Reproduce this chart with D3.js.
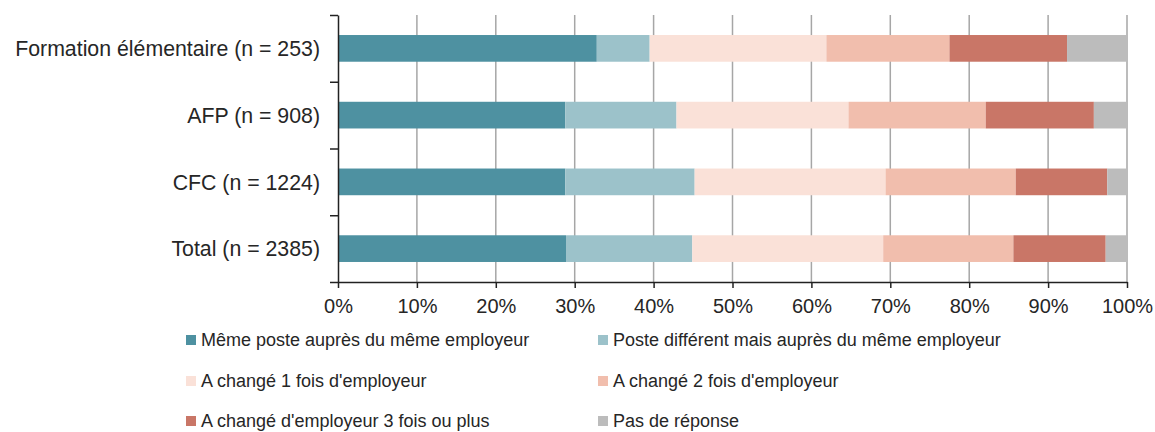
<!DOCTYPE html>
<html>
<head>
<meta charset="utf-8">
<script src="https://cdn.jsdelivr.net/npm/d3@7"></script>
<style>
  body { margin: 0; background: #fff; }
  text { font-family: "Liberation Sans", Arial, sans-serif; fill: #262626; }
</style>
</head>
<body>
<div id="chart"></div>
<script>
// DATA //
const categories = [
    "Formation élémentaire (n = 253)",
    "AFP (n = 908)",
    "CFC (n = 1224)",
    "Total (n = 2385)"
]

const seriesNames = [
    "Même poste auprès du même employeur",
    "Poste différent mais auprès du même employeur",
    "A changé 1 fois d'employeur",
    "A changé 2 fois d'employeur",
    "A changé d'employeur 3 fois ou plus",
    "Pas de réponse"
]

const memePoste   = [32.8, 28.8, 28.8, 28.9]
const posteDiff   = [6.7, 14.1, 16.4, 16.0]
const change1     = [22.4, 21.8, 24.2, 24.2]
const change2     = [15.6, 17.4, 16.5, 16.5]
const change3plus = [14.9, 13.7, 11.6, 11.7]
const pasReponse  = [7.6, 4.2, 2.5, 2.7]

const xTicks = [0, 10, 20, 30, 40, 50, 60, 70, 80, 90, 100]

const colors = ["#4e91a1", "#9cc2ca", "#fae1d8", "#f1bead", "#c97667", "#bcbcbc"]

// Set dimensions
let dimensions = {
    width: 1155,
    height: 432,
    margin: { top: 15, right: 28, bottom: 150, left: 338 },
}
dimensions.boundedWidth = dimensions.width - dimensions.margin.left - dimensions.margin.right
dimensions.boundedHeight = dimensions.height - dimensions.margin.top - dimensions.margin.bottom

// build rows for stacking
const rows = categories.map((c, i) => ({
    cat: c,
    s0: memePoste[i], s1: posteDiff[i], s2: change1[i],
    s3: change2[i], s4: change3plus[i], s5: pasReponse[i]
}))
const keys = ["s0", "s1", "s2", "s3", "s4", "s5"]
const stacked = d3.stack().keys(keys)(rows)

// Scales
const xScale = d3.scaleLinear()
    .domain([0, 100])
    .range([0, dimensions.boundedWidth])

const yScale = d3.scaleBand()
    .domain(categories)
    .range([0, dimensions.boundedHeight])
    .paddingInner(0.6)
    .paddingOuter(0.3)

// linear scale only for the y tick marks at band edges
const yEdge = d3.scaleLinear()
    .domain([0, categories.length])
    .range([0, dimensions.boundedHeight])

const svg = d3.select("#chart")
    .append("svg")
    .attr("width", dimensions.width)
    .attr("height", dimensions.height)

const bounds = svg.append("g")
    .attr("transform", `translate(${dimensions.margin.left},${dimensions.margin.top})`)

// gridlines
bounds.append("g")
    .selectAll("line")
    .data(xTicks.slice(1))
    .join("line")
    .attr("x1", d => xScale(d))
    .attr("x2", d => xScale(d))
    .attr("y1", 0)
    .attr("y2", dimensions.boundedHeight)
    .attr("stroke", "#a6a6a6")
    .attr("stroke-width", 1.5)

// bars
bounds.append("g")
    .selectAll("g")
    .data(stacked)
    .join("g")
    .attr("fill", (d, i) => colors[i])
    .selectAll("rect")
    .data(d => d)
    .join("rect")
    .attr("x", d => xScale(d[0]))
    .attr("width", d => xScale(d[1]) - xScale(d[0]))
    .attr("y", d => yScale(d.data.cat))
    .attr("height", yScale.bandwidth())

// x axis
const xAxisGenerator = d3.axisBottom(xScale)
    .tickValues(xTicks)
    .tickFormat(d => d + "%")
    .tickSize(6)
    .tickSizeOuter(0)

const xAxis = bounds.append("g")
    .attr("transform", `translate(0,${dimensions.boundedHeight})`)
    .call(xAxisGenerator)
xAxis.select(".domain").attr("stroke", "#222").attr("stroke-width", 1.5)
xAxis.selectAll(".tick line").attr("stroke", "#222").attr("stroke-width", 1.5)
xAxis.selectAll("text")
    .attr("y", 17)
    .style("font-size", "20px")
    .style("font-family", "'Liberation Sans', Arial, sans-serif")
    .attr("fill", "#262626")

// y axis line + edge ticks
const yAxis = bounds.append("g")
    .call(d3.axisLeft(yEdge)
        .tickValues(d3.range(categories.length + 1))
        .tickFormat("")
        .tickSize(8)
        .tickSizeOuter(0))
yAxis.select(".domain").attr("stroke", "#222").attr("stroke-width", 1.5)
yAxis.selectAll(".tick line").attr("stroke", "#222").attr("stroke-width", 1.5)

// category labels
bounds.append("g")
    .selectAll("text")
    .data(categories)
    .join("text")
    .attr("x", -18)
    .attr("y", d => yScale(d) + yScale.bandwidth() / 2)
    .attr("dy", "0.36em")
    .attr("text-anchor", "end")
    .style("font-size", "21.3px")
    .text(d => d)

// legend
const legendCols = [186, 598]
const legendRows = [340, 381, 421]
const legend = svg.append("g")
    .selectAll("g")
    .data(seriesNames)
    .join("g")
    .attr("transform", (d, i) => `translate(${legendCols[i % 2]},${legendRows[Math.floor(i / 2)]})`)

legend.append("rect")
    .attr("x", 0)
    .attr("y", -5)
    .attr("width", 10)
    .attr("height", 10)
    .attr("fill", (d, i) => colors[i])

legend.append("text")
    .attr("x", 15)
    .attr("dy", "0.36em")
    .style("font-size", "18px")
    .text(d => d)
</script>
</body>
</html>
